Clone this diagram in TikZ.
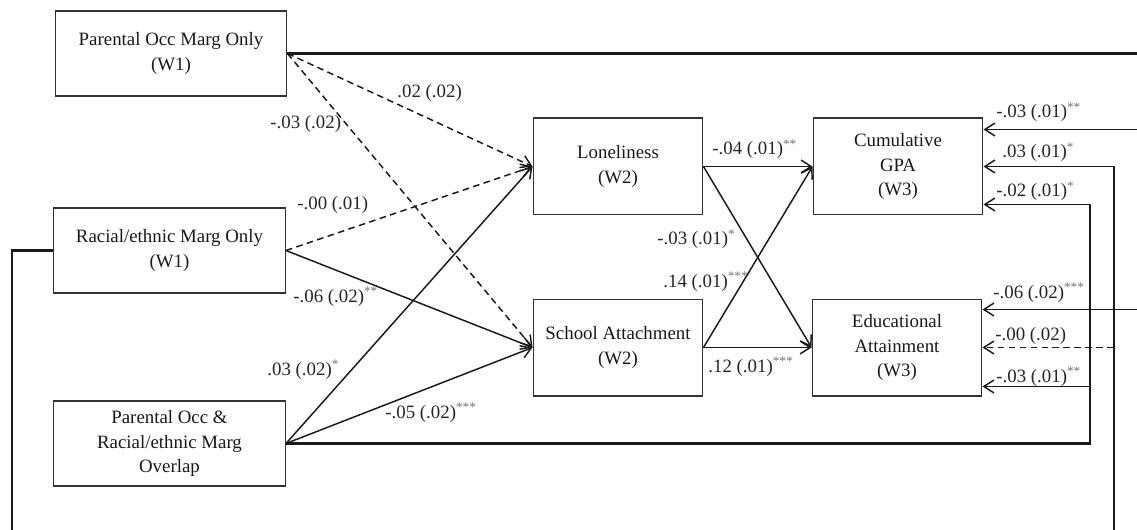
\documentclass[tikz,border=0pt]{standalone}
\usepackage{fontspec}
\setmainfont{Liberation Serif}
\usetikzlibrary{arrows.meta,calc}

\newcommand{\sig}[1]{\textsuperscript{\color{black!55}#1}}

\begin{document}
\begin{tikzpicture}[
	x=0.0192cm, y=-0.0192cm,
	>={Straight Barb[length=5.5pt,width=7pt]},
	var/.style={draw=black!80, line width=0.6pt, align=center, text=black!90,
		font=\fontsize{10.3pt}{13.5pt}\selectfont},
	exo/.style={var, minimum width=4.45cm, minimum height=1.63cm},
	med/.style={var, minimum width=3.26cm, minimum height=1.86cm},
	arr/.style={->, line width=0.8pt, black!90},
	nsig/.style={dash pattern=on 3.6pt off 2.4pt},
	trunk/.style={line width=1.1pt, black!90},
	coef/.style={inner sep=0pt, anchor=base west, text=black!85,
		font=\fontsize{10.3pt}{12pt}\selectfont},
	]
	\useasboundingbox (0,0) rectangle (1137,530);
	\clip (0,0) rectangle (1137,530);

	%boxes
	\node[exo] (P1) at (171,53.5) {Parental Occ Marg Only\\(W1)};
	\node[exo] (R1) at (169.5,250.5) {Racial/ethnic Marg Only\\(W1)};
	\node[exo] (O) at (169.5,443.5) {Parental Occ \&\\Racial/ethnic Marg\\Overlap};
	\node[med] (L) at (618,166.5) {Loneliness\\(W2)};
	\node[med] (S) at (618,347.5) {School Attachment\\(W2)};
	\node[med] (G) at (898,166.5) {Cumulative\\GPA\\(W3)};
	\node[med] (E) at (897,347.5) {Educational\\Attainment\\(W3)};

	%routing points
	\coordinate (colP) at (1150,0);
	\coordinate (colR) at (1114,0);
	\coordinate (colO) at (1090,0);
	\coordinate (colL) at (12,0);
	\coordinate (rowB) at (0,545);
	\coordinate (g1) at ($(G.east)+(0,-37)$);
	\coordinate (g2) at (G.east);
	\coordinate (g3) at ($(G.east)+(0,38)$);
	\coordinate (e1) at ($(E.east)+(0,-38)$);
	\coordinate (e2) at (E.east);
	\coordinate (e3) at ($(E.east)+(0,39)$);

	%paths to mediators
	\draw[arr, nsig] (P1.east) -- (L.west);
	\draw[arr, nsig] (P1.east) -- (S.west);
	\draw[arr, nsig] (R1.east) -- (L.west);
	\draw[arr] (R1.east) -- (S.west);
	\draw[arr] (O.east) -- (L.west);
	\draw[arr] (O.east) -- (S.west);

	%paths to outcomes
	\draw[arr] (L.east) -- (G.west);
	\draw[arr] (L.east) -- (E.west);
	\draw[arr] (S.east) -- (G.west);
	\draw[arr] (S.east) -- (E.west);

	%direct paths
	\draw[trunk] (P1.east) -- (P1.east -| colP) -- (e1 -| colP);
	\draw[arr] (g1 -| colP) -- (g1);
	\draw[arr] (e1 -| colP) -- (e1);
	\draw[trunk] (R1.west) -- (R1.west -| colL) -- (rowB -| colL) -- (rowB -| colR) -- (g2 -| colR);
	\draw[arr] (g2 -| colR) -- (g2);
	\draw[arr, nsig] (e2 -| colR) -- (e2);
	\draw[trunk] (O.east) -- (O.east -| colO) -- (g3 -| colO);
	\draw[arr] (g3 -| colO) -- (g3);
	\draw[arr] (e3 -| colO) -- (e3);

	%coefficients
	\node[coef] (cPL) at (397,98) {.02 (.02)};
	\node[coef] (cPS) at (270,129) {-.03 (.02)};
	\node[coef] (cRL) at (297,210) {-.00 (.01)};
	\node[coef] (cRS) at (293,302) {-.06 (.02)\sig{**}};
	\node[coef] (cOL) at (267,375) {.03 (.02)\sig{*}};
	\node[coef] (cOS) at (385,418) {-.05 (.02)\sig{***}};
	\node[coef] (cLG) at (712,155) {-.04 (.01)\sig{**}};
	\node[coef] (cLE) at (657,245) {-.03 (.01)\sig{*}};
	\node[coef] (cSG) at (663,287) {.14 (.01)\sig{***}};
	\node[coef] (cSE) at (708,372) {.12 (.01)\sig{***}};
	\node[coef] (cPG) at (996,118) {-.03 (.01)\sig{**}};
	\node[coef] (cRG) at (1002,158) {.03 (.01)\sig{*}};
	\node[coef] (cOG) at (996,197) {-.02 (.01)\sig{*}};
	\node[coef] (cPE) at (993,298) {-.06 (.02)\sig{***}};
	\node[coef] (cRE) at (995,340) {-.00 (.02)};
	\node[coef] (cOE) at (996,382) {-.03 (.01)\sig{**}};
\end{tikzpicture}
\end{document}
